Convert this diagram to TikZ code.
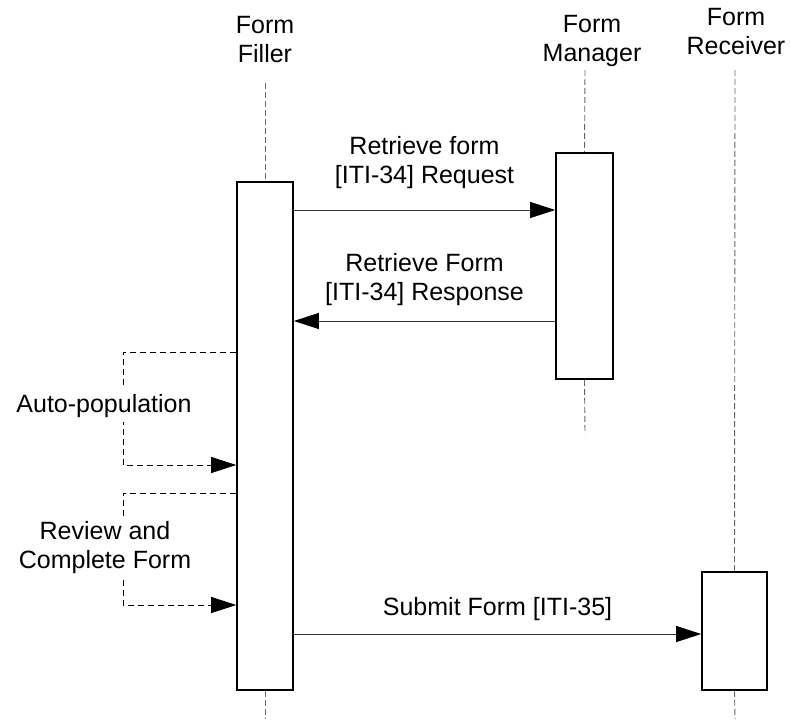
\documentclass[tikz,border=0pt]{standalone}
\usepackage{fontspec}
\setmainfont{Liberation Sans}
\usetikzlibrary{arrows.meta}
\begin{document}
\begin{tikzpicture}[x=1pt,y=-1pt]
    \tikzstyle{every node}+=[inner sep=0pt, font=\fontsize{25}{29}\selectfont]
    \tikzstyle{bar}=[draw=black, line width=1.6pt, fill=white, minimum width=56pt]
    \tikzstyle{life}=[draw=black!60, line width=0.9pt, dash pattern=on 6pt off 3pt]
    \tikzstyle{msg}=[draw=black!80, line width=0.9pt, -{Triangle[length=25pt,width=16pt,color=black]}]
    \tikzstyle{selfmsg}=[draw=black, line width=0.8pt, dash pattern=on 6pt off 4pt, -{Triangle[length=25pt,width=16pt]}]
    \useasboundingbox (0,0) rectangle (791,719);
    % heads
    \node [align=center, anchor=base] (filler) at (265,63) {Form\\Filler};
    \node [align=center, anchor=base] (manager) at (592,62) {Form\\Manager};
    \node [align=center, anchor=base] (receiver) at (736,55) {Form\\Receiver};
    % activation bars
    \node [bar, minimum height=508pt] (fillerbar) at (265,436) {};
    \node [bar, minimum width=57pt, minimum height=226pt] (managerbar) at (584.5,266) {};
    \node [bar, minimum width=65pt, minimum height=118pt] (receiverbar) at (734.5,631) {};
    % lifelines
    \coordinate (fillertop) at (265,83);
    \coordinate (fillerend) at (265,719);
    \coordinate (managertop) at (585,70);
    \coordinate (managerend) at (585,434);
    \coordinate (receivertop) at (735,70);
    \coordinate (receiverend) at (735,719);
    \draw [life] (fillertop) -- (fillerbar.north);
    \draw [life] (fillerbar.south) -- (fillerend);
    \draw [life] (managertop) -- (managerbar.north);
    \draw [life] (managerbar.south) -- (managerend);
    \draw [life] (receivertop) -- (receiverbar.north);
    \draw [life] (receiverbar.south) -- (receiverend);
    % messages
    \coordinate (req) at (0,210);
    \coordinate (resp) at (0,321);
    \coordinate (submit) at (0,634);
    \draw [msg] (fillerbar.east |- req) -- (managerbar.west |- req)
        node [midway, above=21pt, align=center] {Retrieve form\\{}[ITI-34] Request};
    \draw [msg] (managerbar.west |- resp) -- (fillerbar.east |- resp)
        node [midway, above=15pt, align=center] {Retrieve Form\\{}[ITI-34] Response};
    \draw [msg] (fillerbar.east |- submit) -- (receiverbar.west |- submit)
        node [midway, above=13pt] {Submit Form [ITI-35]};
    % self calls
    \coordinate (autotop) at (123,352);
    \coordinate (autobot) at (123,465);
    \coordinate (reviewtop) at (123,493);
    \coordinate (reviewbot) at (123,605);
    \draw [selfmsg] (fillerbar.west |- autotop) -- (autotop) -- (autobot) -- (fillerbar.west |- autobot);
    \draw [selfmsg] (fillerbar.west |- reviewtop) -- (reviewtop) -- (reviewbot) -- (fillerbar.west |- reviewbot);
    \node [fill=white, inner ysep=5pt, anchor=base] (auto) at (104,412) {Auto-population};
    \node [fill=white, inner ysep=5pt, align=center, anchor=base] (review) at (105,568) {Review and\\Complete Form};
\end{tikzpicture}
\end{document}
